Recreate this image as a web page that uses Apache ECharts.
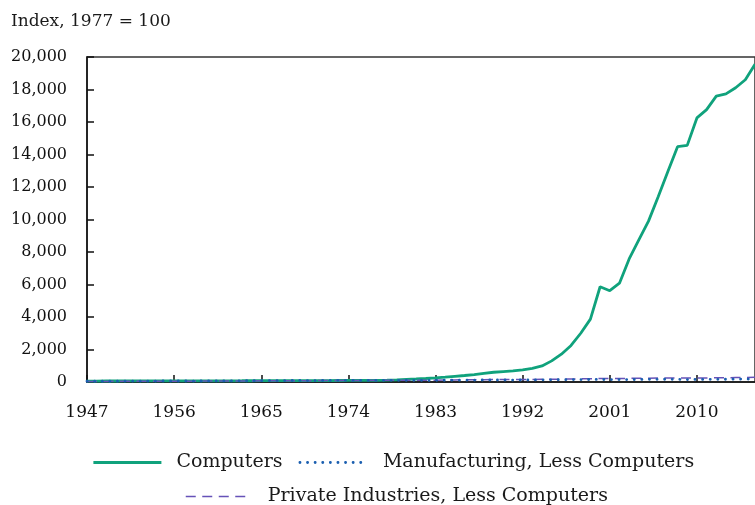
<!DOCTYPE html>
<html>
<head>
<meta charset="utf-8">
<script src="https://cdn.jsdelivr.net/npm/echarts@6/dist/echarts.min.js"></script>
<style>
  html, body { margin: 0; padding: 0; background: #fff; }
  #chart { width: 755px; height: 505px; }
</style>
</head>
<body>
<div id="chart"></div>
<script>
// years on the x axis, 1947 - 2016
const years = [
  '1947', '1948', '1949', '1950', '1951', '1952', '1953', '1954', '1955', '1956',
  '1957', '1958', '1959', '1960', '1961', '1962', '1963', '1964', '1965', '1966',
  '1967', '1968', '1969', '1970', '1971', '1972', '1973', '1974', '1975', '1976',
  '1977', '1978', '1979', '1980', '1981', '1982', '1983', '1984', '1985', '1986',
  '1987', '1988', '1989', '1990', '1991', '1992', '1993', '1994', '1995', '1996',
  '1997', '1998', '1999', '2000', '2001', '2002', '2003', '2004', '2005', '2006',
  '2007', '2008', '2009', '2010', '2011', '2012', '2013', '2014', '2015', '2016'
];

const computers = [
  60, 60, 62, 62, 64, 64, 66, 66, 68, 68,
  70, 70, 72, 72, 74, 75, 76, 78, 80, 82,
  84, 85, 86, 88, 88, 90, 92, 94, 95, 97,
  100, 115, 135, 160, 185, 215, 255, 300, 350, 400,
  460, 530, 600, 640, 680, 740, 840, 990, 1300, 1710,
  2250, 3000, 3870, 5860, 5620, 6080, 7570, 8750, 9900, 11400,
  12950, 14480, 14560, 16250, 16760, 17590, 17730, 18110, 18600, 19550
];

const manufacturing = [
  45, 47, 45, 50, 54, 56, 60, 56, 62, 63,
  63, 58, 64, 65, 65, 70, 74, 78, 84, 89,
  88, 92, 94, 89, 90, 97, 105, 101, 93, 98,
  100, 104, 106, 102, 103, 97, 101, 110, 112, 114,
  118, 124, 124, 123, 120, 123, 126, 132, 137, 140,
  146, 150, 154, 158, 150, 150, 152, 157, 162, 166,
  170, 164, 148, 158, 162, 166, 170, 175, 180, 185
];

const privateInd = [
  36, 38, 38, 41, 44, 46, 48, 48, 51, 52,
  53, 53, 56, 57, 58, 62, 64, 68, 72, 76,
  78, 81, 84, 84, 87, 92, 97, 96, 96, 101,
  100, 106, 110, 109, 112, 110, 115, 124, 129, 133,
  138, 144, 150, 153, 152, 157, 161, 167, 171, 177,
  185, 193, 202, 210, 212, 215, 222, 230, 238, 244,
  249, 248, 240, 246, 252, 258, 264, 272, 281, 288
];

const serif = 'DejaVu Serif';

const green = '#10a27c';
const blue = '#1b5fb0';
const purple = '#6652b8';

const compLine = { color: green, width: 2.8 };
const manuLine = { color: blue, width: 2.8, type: [0.1, 7.5], cap: 'round' };
const privLine = { color: purple, width: 1.5, type: [10, 6.5] };

const chart = echarts.init(document.getElementById('chart'));

const option = {
  animation: false,
  title: {
    text: 'Index, 1977 = 100',
    left: 6,
    top: 8,
    textStyle: { fontFamily: serif, fontSize: 17, fontWeight: 'normal', color: '#1a1a1a' }
  },
  grid: {
    left: 87,
    right: -3,
    top: 57,
    bottom: 123,
    show: true,
    borderColor: '#333',
    borderWidth: 1.5
  },
  legend: [
    {
      data: [
        { name: 'Computers', lineStyle: compLine },
        { name: 'Manufacturing, Less Computers', lineStyle: manuLine }
      ],
      left: 87,
      top: 448,
      itemWidth: 68,
      itemHeight: 18,
      itemGap: 16,
      itemStyle: { opacity: 0 },
      textStyle: { fontFamily: serif, fontSize: 19, color: '#1a1a1a', padding: [0, 0, 0, 10] }
    },
    {
      data: [{ name: 'Private Industries, Less Computers', lineStyle: privLine }],
      left: 180,
      top: 482,
      itemWidth: 62,
      itemHeight: 18,
      itemStyle: { opacity: 0 },
      textStyle: { fontFamily: serif, fontSize: 19, color: '#1a1a1a', padding: [0, 0, 0, 15] }
    }
  ],
  xAxis: {
    type: 'category',
    data: years,
    boundaryGap: false,
    axisLine: { lineStyle: { color: '#111', width: 1.5 } },
    axisTick: { inside: true, length: 7, interval: 8, lineStyle: { color: '#111', width: 1.5 } },
    axisLabel: { interval: 8, margin: 22, fontFamily: serif, fontSize: 17, color: '#111' },
    splitLine: { show: false }
  },
  yAxis: {
    type: 'value',
    min: 0,
    max: 20000,
    interval: 2000,
    axisLine: { show: true, lineStyle: { color: '#111', width: 1.5 } },
    axisTick: { show: true, inside: true, length: 7, lineStyle: { color: '#111', width: 1.5 } },
    axisLabel: {
      margin: 20,
      fontFamily: serif,
      fontSize: 16,
      color: '#111',
      formatter: v => v.toLocaleString('en-US')
    },
    splitLine: { show: false }
  },
  series: [
    {
      name: 'Computers',
      type: 'line',
      data: computers,
      symbol: 'none',
      lineStyle: compLine,
      itemStyle: { color: green }
    },
    {
      name: 'Private Industries, Less Computers',
      type: 'line',
      data: privateInd,
      symbol: 'none',
      lineStyle: privLine,
      itemStyle: { color: purple }
    },
    {
      name: 'Manufacturing, Less Computers',
      type: 'line',
      data: manufacturing,
      symbol: 'none',
      lineStyle: manuLine,
      itemStyle: { color: blue }
    }
  ]
};

chart.setOption(option);
</script>
</body>
</html>
